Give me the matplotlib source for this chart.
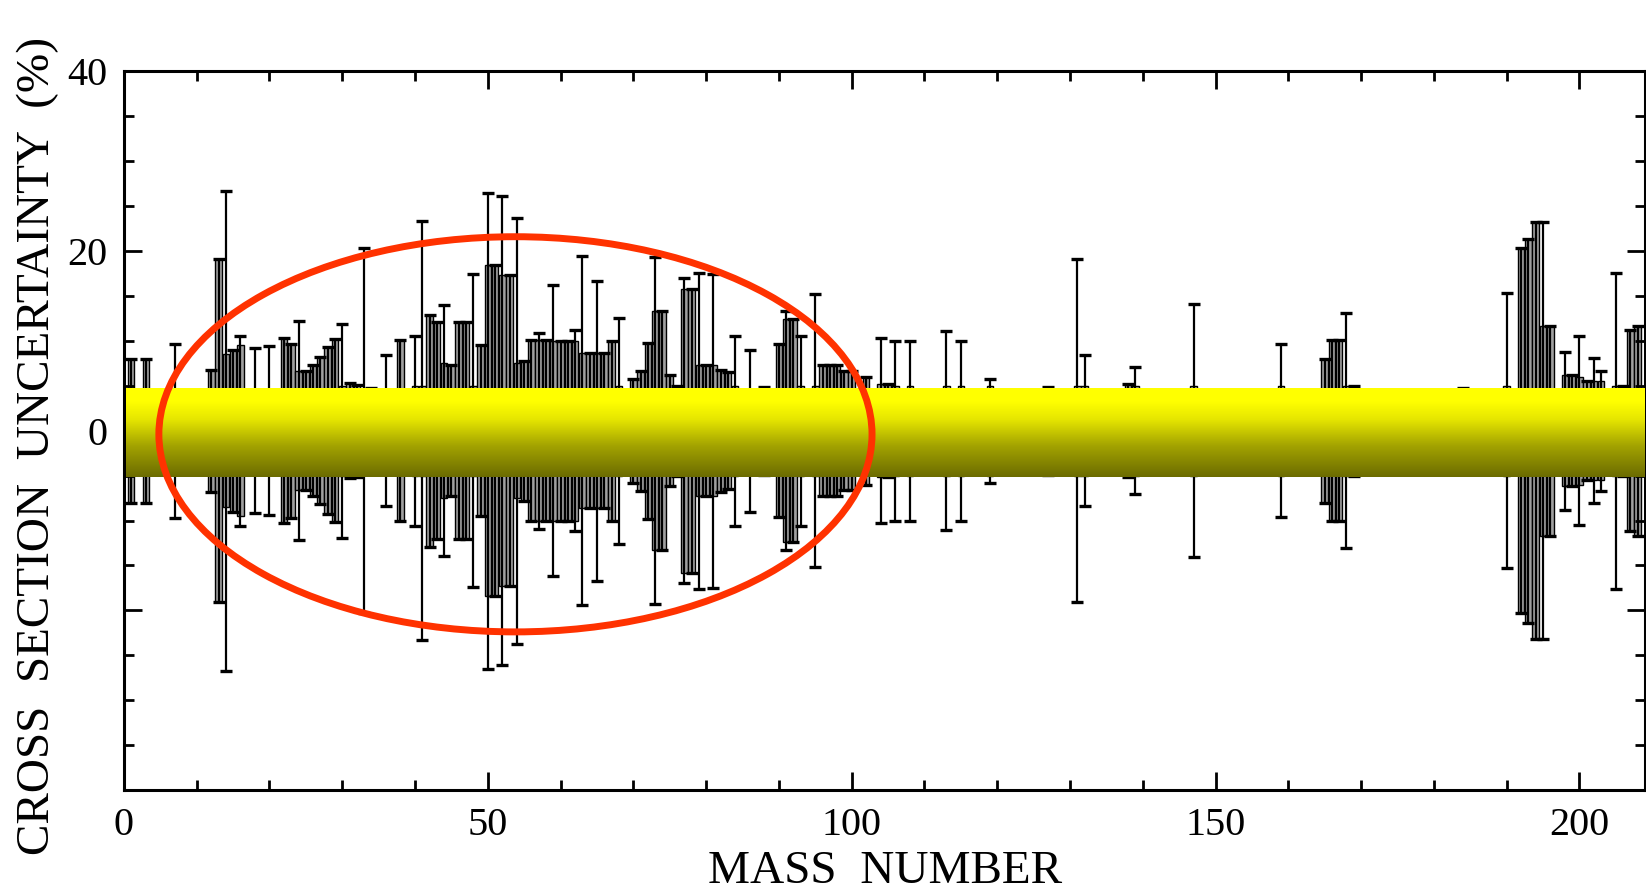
import numpy as np
import matplotlib
matplotlib.use('Agg')
import matplotlib.pyplot as plt
from matplotlib.patches import Ellipse
from matplotlib.colors import LinearSegmentedColormap
from matplotlib.ticker import MultipleLocator

# mass number, gray bar half-height (%), error bar half-height (%)
mass = [1, 3, 7, 12, 13, 14, 15, 16, 18, 20,
        22, 23, 24, 25, 26, 27, 28, 29, 30, 31,
        32, 33, 34, 36, 38, 40, 41, 42, 43, 44,
        45, 46, 47, 48, 49, 50, 51, 52, 53, 54,
        55, 56, 57, 58, 59, 60, 61, 62, 63, 64,
        65, 66, 67, 68, 70, 71, 72, 73, 74, 75,
        76, 77, 78, 79, 80, 81, 82, 83, 84, 86,
        88, 90, 91, 92, 93, 95, 96, 97, 98, 99,
        100, 102, 104, 105, 106, 108, 113, 115, 119, 127,
        131, 132, 138, 139, 147, 159, 165, 166, 167, 168,
        169, 184, 190, 192, 193, 194, 195, 196, 198, 199,
        200, 201, 202, 203, 205, 206, 207, 208]
bar = [8.0, 8.0, 4.0, 6.8, 19.1, 8.5, 9.0, 9.5, 4.5, 4.5,
       10.3, 9.7, 6.6, 6.6, 7.3, 8.2, 9.3, 10.2, 5.0, 5.3,
       5.1, 4.5, 4.8, 4.0, 10.1, 5.0, 5.0, 12.9, 12.1, 7.5,
       7.3, 12.1, 12.1, 5.0, 9.5, 18.4, 18.4, 17.3, 17.3, 7.5,
       7.8, 10.1, 10.1, 10.1, 10.0, 10.0, 10.0, 10.0, 8.6, 8.6,
       8.6, 8.6, 10.0, 5.0, 5.8, 6.7, 9.8, 13.3, 13.3, 6.2,
       5.0, 15.8, 15.8, 7.3, 7.3, 7.3, 6.8, 6.5, 5.0, 4.5,
       4.9, 9.6, 12.4, 12.4, 5.0, 5.0, 7.3, 7.3, 7.3, 6.6,
       6.6, 6.0, 5.2, 5.2, 5.0, 5.0, 5.0, 5.0, 5.0, 4.9,
       5.0, 5.0, 5.2, 5.0, 5.0, 5.0, 8.0, 10.1, 10.1, 5.0,
       5.0, 4.8, 5.0, 20.3, 21.4, 23.2, 11.7, 11.7, 6.2, 6.2,
       6.0, 5.5, 5.5, 5.5, 5.0, 5.0, 11.2, 11.7]
err = [8.0, 8.0, 9.7, 6.8, 19.1, 26.7, 9.0, 10.6, 9.2, 9.4,
       10.3, 9.7, 12.2, 6.6, 7.3, 8.2, 9.3, 10.2, 11.9, 5.3,
       5.1, 20.3, 4.8, 8.4, 10.1, 10.6, 23.3, 12.9, 12.1, 14.0,
       7.3, 12.1, 12.1, 17.4, 9.5, 26.5, 18.4, 26.1, 17.3, 23.7,
       7.8, 10.1, 10.9, 10.1, 16.2, 10.0, 10.0, 11.2, 19.4, 8.6,
       16.7, 8.6, 10.0, 12.6, 5.8, 6.7, 9.8, 19.3, 13.3, 6.2,
       5.0, 17.0, 15.8, 17.6, 7.3, 17.5, 6.8, 6.5, 10.6, 9.0,
       4.9, 9.6, 13.3, 12.4, 10.6, 15.2, 7.3, 7.3, 7.3, 6.6,
       6.6, 6.0, 10.3, 5.2, 10.0, 10.0, 11.1, 10.0, 5.8, 4.9,
       19.1, 8.4, 5.2, 7.1, 14.1, 9.6, 8.0, 10.1, 10.1, 13.1,
       5.0, 4.8, 15.3, 20.3, 21.4, 23.2, 23.2, 11.7, 8.8, 6.2,
       10.5, 5.5, 8.1, 6.7, 17.6, 5.0, 11.2, 11.7]

band_lo, band_hi = -5.2, 4.7

mass = np.array(mass)
bar = np.array(bar)
err = np.array(err)

plt.rcParams['font.family'] = 'Liberation Serif'
fig = plt.figure(figsize=(16.46, 8.91), dpi=100)
ax = fig.add_axes([0.0753, 0.1134, 0.9240, 0.8064])

ax.bar(mass, 2 * bar, bottom=-bar, width=0.9, color='#a0a0a0',
       edgecolor='black', linewidth=1.0, zorder=1)
ax.errorbar(mass, np.zeros_like(err), yerr=err, fmt='none', ecolor='black',
            elinewidth=1.6, capsize=4.5, capthick=2.4, zorder=2)

# yellow gradient band
grad = np.linspace(0, 1, 256).reshape(-1, 1)
cmap = LinearSegmentedColormap.from_list(
    'band', [(0, '#6b6b00'), (0.35, '#a3a300'), (0.65, '#e6e600'),
             (0.85, '#ffff00'), (1, '#ffff00')])
ax.imshow(grad, extent=[0.3, 209, band_lo, band_hi], origin='lower',
          aspect='auto', cmap=cmap, zorder=3)

ax.add_patch(Ellipse((53.8, -0.4), 98, 44, fill=False, edgecolor='#ff3200',
                     linewidth=5, zorder=5, clip_on=False))

ax.set_xlim(0, 209)
ax.set_ylim(-40, 40)
ax.xaxis.set_major_locator(MultipleLocator(50))
ax.xaxis.set_minor_locator(MultipleLocator(10))
ax.set_yticks([-40, -20, 0, 20, 40])
ax.set_yticklabels(['', '', '0', '20', '40'])
ax.yaxis.set_minor_locator(MultipleLocator(5))
ax.tick_params(which='both', direction='in', top=True, right=True, width=2)
ax.tick_params(which='major', length=13, labelsize=29, pad=12)
ax.tick_params(which='minor', length=7)
for s in ax.spines.values():
    s.set_linewidth(2.2)

fig.text(0.5377, 0.009, 'MASS  NUMBER', fontsize=34, ha='center', va='baseline')
fig.text(0.023, 0.5, 'CROSS  SECTION  UNCERTAINTY  (%)', fontsize=34,
         rotation=90, ha='center', va='center')

fig.savefig('out.png', dpi=100, facecolor='white')
